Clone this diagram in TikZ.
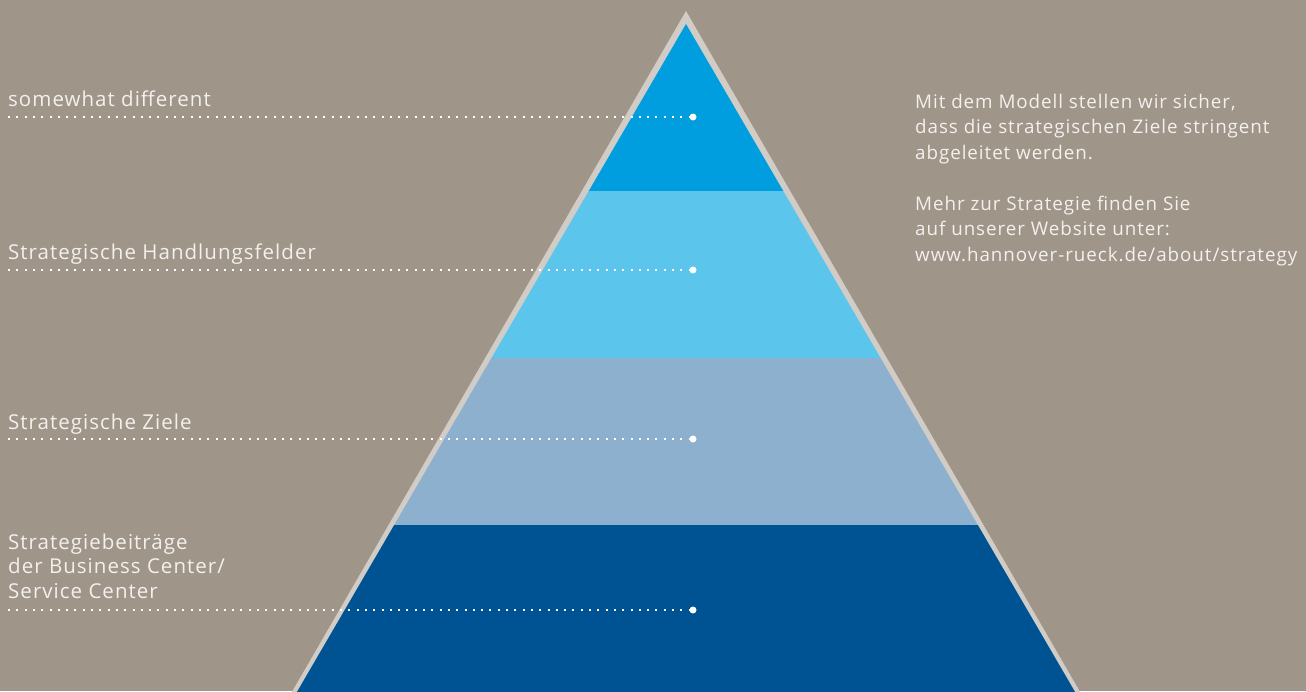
\documentclass[tikz,border=0pt]{standalone}
\usepackage{fontspec}
\setmainfont{Open Sans}[LetterSpace=5]
\definecolor{bg}{HTML}{A09589}
\definecolor{rim}{HTML}{D1CCC6}
\definecolor{bandA}{HTML}{009DDF}
\definecolor{bandB}{HTML}{5BC5EC}
\definecolor{bandC}{HTML}{8CB0CE}
\definecolor{bandD}{HTML}{005393}
\definecolor{txt}{HTML}{F3F0ED}
\tikzset{
  lbl/.style={anchor=base west, inner sep=0pt, text=txt, align=left,
    font={\fontsize{20.5}{24.5}\selectfont}},
  note/.style={anchor=base west, inner sep=0pt, text=txt, align=left,
    font={\fontsize{18.8}{25.5}\selectfont}},
  dotline/.style={white, line width=2pt, dash pattern=on 2pt off 6.3pt},
  bigdot/.style={circle, fill=white, inner sep=0pt, minimum size=7pt},
}
\begin{document}
\begin{tikzpicture}[x=1pt,y=-1pt]
\useasboundingbox (0,0) rectangle (1306,691);
\fill[bg] (0,0) rectangle (1306,691);
\begin{scope}
\clip (0,0) rectangle (1306,691);
\fill[rim] (686,11) -- (289,697) -- (1083,697) -- cycle;
\begin{scope}
\clip (686,24) -- (294,697) -- (1078,697) -- cycle;
\fill[bandA] (280,0) rectangle (1090,191);
\fill[bandB] (280,191) rectangle (1090,358);
\fill[bandC] (280,358) rectangle (1090,525);
\fill[bandD] (280,525) rectangle (1090,700);
\end{scope}
\end{scope}
% labels (base anchor = last line's baseline)
\node[lbl] (l1) at (8,106) {somewhat different};
\node[lbl] (l2) at (8,259) {Strategische Handlungsfelder};
\node[lbl] (l3) at (8,429) {Strategische Ziele};
\node[lbl] (l4) at (8,598) {Strategiebeiträge\\der Business Center/\\Service Center};
% dotted leaders
\coordinate (s1) at (8,117); \node[bigdot] (d1) at (693,117) {};
\coordinate (s2) at (8,270); \node[bigdot] (d2) at (693,270) {};
\coordinate (s3) at (8,439); \node[bigdot] (d3) at (693,439) {};
\coordinate (s4) at (8,610); \node[bigdot] (d4) at (693,610) {};
\draw[dotline] (s1) -- (d1.west);
\draw[dotline] (s2) -- (d2.west);
\draw[dotline] (s3) -- (d3.west);
\draw[dotline] (s4) -- (d4.west);
% note
\node[note] (n1) at (915,261) {Mit dem Modell stellen wir sicher,\\dass die strategischen Ziele stringent\\abgeleitet werden.\\[25.5pt]Mehr zur Strategie finden Sie\\auf unserer Website unter:\\www.hannover-rueck.de/about/strategy};
\end{tikzpicture}
\end{document}
